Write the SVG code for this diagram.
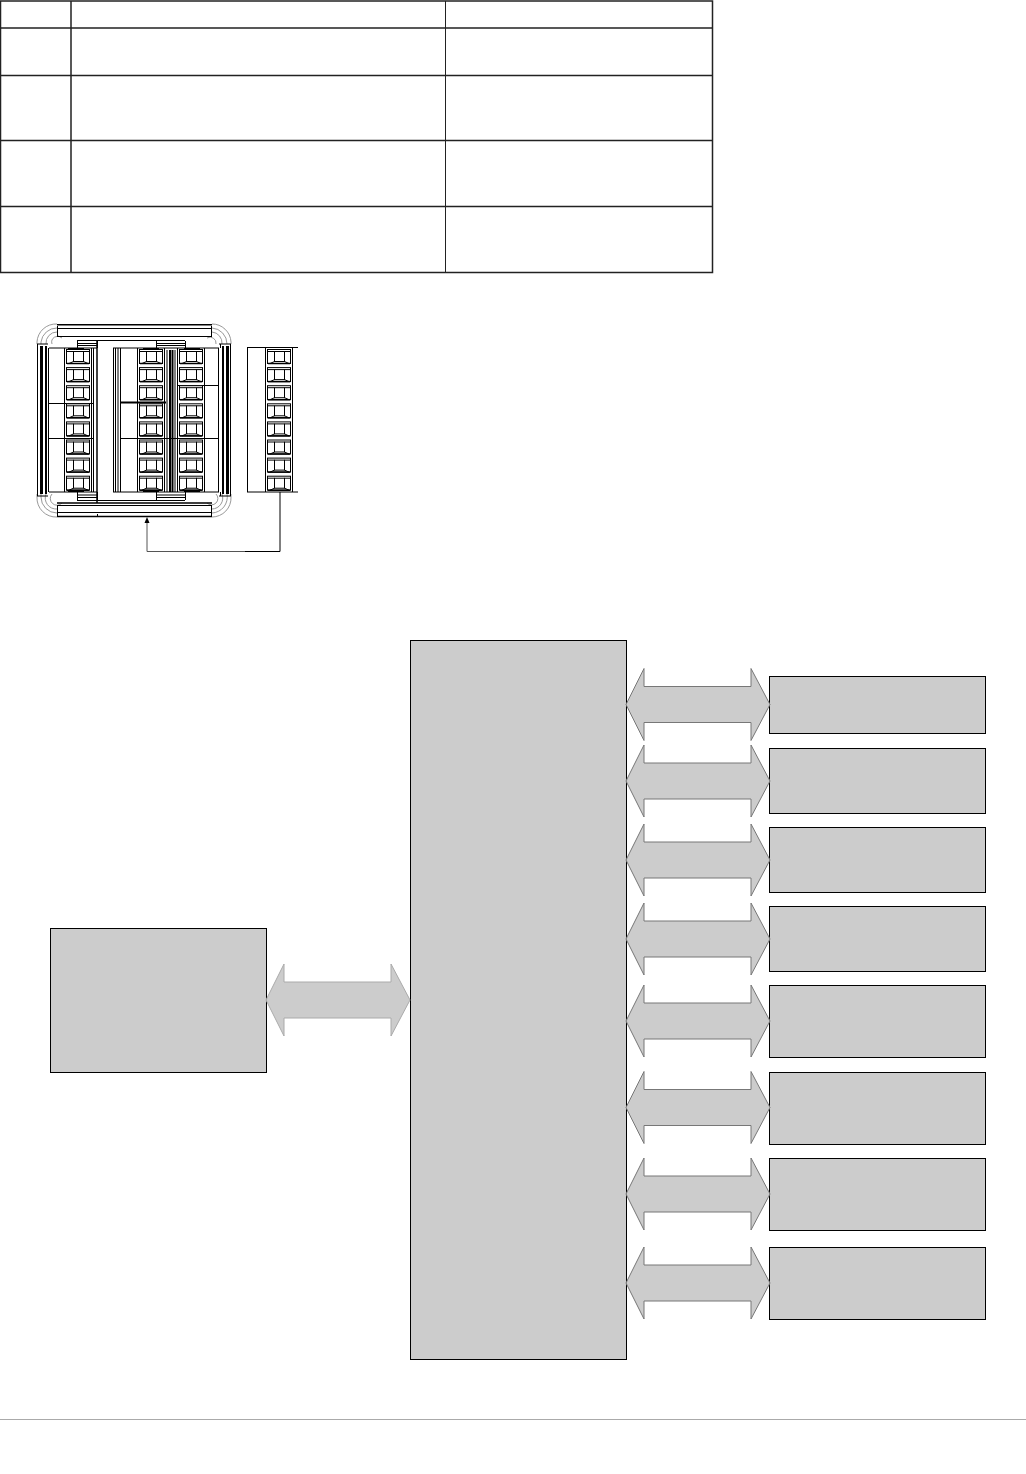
<svg xmlns="http://www.w3.org/2000/svg" width="1026" height="1474" viewBox="0 0 1026 1474">
<style>
.t{stroke:#222;stroke-width:1.5;fill:none}
.t2{stroke:#222;stroke-width:1;fill:none}
.box{fill:#ccc;stroke:#000;stroke-width:1}
.dbl{fill:#ccc;stroke:#777;stroke-width:1}
.dbl2{fill:#ccc;stroke:#aaa;stroke-width:1}
.l{stroke:#000;stroke-width:1;fill:none}
.h{stroke:#000;stroke-width:2;fill:none}
.x{stroke:#000;stroke-width:3;fill:none}
.m{stroke:#000;stroke-width:1.5;fill:none}
.g{stroke:#999;stroke-width:1;fill:none}
.w{fill:#fff;stroke:#000;stroke-width:1}
</style>
<defs>
<path id="dbl" d="M0 0L18 -36V-18H125V-36L144 0L125 36V18H18V36Z"/>
<g id="term">
<rect class="w" x="2.500" y="1.500" width="23" height="14"/>
<rect class="w" x="9.500" y="3.500" width="10" height="10"/>
<path class="l" d="M2.500 3.500H9.500M19.500 3.500H25.500M9.500 13.500L5 15.500M19.500 13.500L24 15.500"/>
<path class="m" d="M3 15.500H25"/>
</g>
<g id="col">
<path class="l" d="M0.500 0V144M27.500 0V144"/>
<use href="#term" y="0"/><use href="#term" y="18.1"/><use href="#term" y="36.200"/><use href="#term" y="54.300"/>
<use href="#term" y="72.400"/><use href="#term" y="90.500"/><use href="#term" y="108.600"/><use href="#term" y="126.700"/>
</g>
</defs>
<rect width="1026" height="1474" fill="#fff"/>
<g id="table">
<path class="t" d="M0.500 1H712.500V272.500H0.500ZM0.500 28H712.500M0.500 75.500H712.500M0.500 140.500H712.500M0.500 206.500H712.500M71 1V272"/>
<path class="t2" d="M445.500 1V272"/>
</g>
<g id="device">
<path class="g" d="M37 344V342A19 19 0 0 1 57 324M41 344V342A16 16 0 0 1 57 328M46 344A11 11 0 0 1 57 332M52 344A6 6 0 0 1 62 338"/>
<path class="g" d="M212 324A19 19 0 0 1 231 342V344M212 328A16 16 0 0 1 227 344M212 332A11 11 0 0 1 222 344M207 338A6 6 0 0 1 216 344"/>
<path class="g" d="M37 494V497A19 19 0 0 0 57 517M41 494V497A16 16 0 0 0 57 513M46 494A11 11 0 0 0 57 509M52 494A6 6 0 0 0 62 503"/>
<path class="g" d="M212 517A19 19 0 0 0 231 497V494M212 513A16 16 0 0 0 227 494M212 509A11 11 0 0 0 222 494M207 503A6 6 0 0 0 216 494"/>
<path class="l" d="M57 328.500H212M57.500 326V336.500M211.500 326V336.500M57 336.500H212M77 340.500H185"/>
<path class="l" d="M57 505.500H212M57.500 505V516M211.500 505V516M57 512.500H212M77 500.500H185M97.500 514V516"/>
<path class="m" d="M57 324.800H212M57 503H212M57 516.500H212"/>
<path class="l" d="M77.500 341V348M97.500 341V348M77 343.500H97M77 345.500H97"/>
<path class="l" d="M77.500 492V500M97.500 492V500M77 495H97M77 497.500H97"/>
<path class="l" d="M156.500 341V348M185.500 341V348M156 343.500H185M156 345.500H185"/>
<path class="l" d="M156.500 492V500M185.500 492V500M156 495H185M156 497.500H185"/>
<path class="l" d="M37.500 344V496M37 344H48M37 496H48"/>
<path class="x" d="M41.500 346V494"/>
<path class="h" d="M46 346V494"/>
<path class="l" d="M48.500 348V492M49 348H97M49 492H97"/>
<path class="l" d="M93.500 348V492"/>
<path class="m" d="M97 341V503"/>
<path class="l" d="M49 403.500H94M49 438.500H94"/>
<path class="l" d="M113.500 348V492M115.500 348V492M118 348V492M120.500 348V492M113 348H219M113 492H219"/>
<path class="l" d="M121 438.500H219M177 385.500H219"/>
<path class="h" d="M121 402.500H166"/>
<path class="h" d="M170 350V492M172.500 350V492"/>
<path class="l" d="M167 350V492M175 350V492M218.500 348V492"/>
<path class="h" d="M223 346V494"/>
<path class="x" d="M227.500 346V494"/>
<path class="l" d="M230.500 344V496M219 344H231M219 496H231M220.500 344V348M220.500 492V496"/>
<use href="#col" x="64" y="348"/>
<use href="#col" x="137" y="348"/>
<use href="#col" x="177" y="348"/>
<path class="h" d="M68 349H84M68 491H84M143 349H159M184 349H200M143 491H159M184 491H200"/>
</g>
<g id="connector-plug">
<path class="l" d="M247.500 347.500V492M247 347.500H298M247 492H298"/>
<use href="#col" x="265" y="348"/>
</g>
<g id="main-box"><rect class="box" x="410.500" y="640.500" width="216" height="719"/></g>
<g id="left-box"><rect class="box" x="50.500" y="928.500" width="216" height="144"/></g>
<g id="box-1"><rect class="box" x="769.500" y="676.500" width="216" height="57"/></g>
<g id="box-2"><rect class="box" x="769.500" y="748.500" width="216" height="65"/></g>
<g id="box-3"><rect class="box" x="769.500" y="827.500" width="216" height="65"/></g>
<g id="box-4"><rect class="box" x="769.500" y="906.500" width="216" height="65"/></g>
<g id="box-5"><rect class="box" x="769.500" y="985.500" width="216" height="72"/></g>
<g id="box-6"><rect class="box" x="769.500" y="1072.500" width="216" height="72"/></g>
<g id="box-7"><rect class="box" x="769.500" y="1158.500" width="216" height="72"/></g>
<g id="box-8"><rect class="box" x="769.500" y="1247.500" width="216" height="72"/></g>
<g id="connectors">
<path class="l" d="M280 492V551.500H245"/>
<path d="M245 551.500H147V522" fill="none" stroke="#555" stroke-width="1"/>
<path d="M147 517L144.500 523H149.500Z" fill="#000"/>
<use href="#dbl" class="dbl2" x="266" y="1000"/>
<use href="#dbl" class="dbl" x="626" y="704.500"/>
<use href="#dbl" class="dbl" x="626" y="781"/>
<use href="#dbl" class="dbl" x="626" y="860"/>
<use href="#dbl" class="dbl" x="626" y="939"/>
<use href="#dbl" class="dbl" x="626" y="1021"/>
<use href="#dbl" class="dbl" x="626" y="1107.500"/>
<use href="#dbl" class="dbl" x="626" y="1194"/>
<use href="#dbl" class="dbl" x="626" y="1283"/>
</g>
<path id="footer-rule" d="M0 1419.500H1026" stroke="#aaa" stroke-width="1"/>
</svg>
